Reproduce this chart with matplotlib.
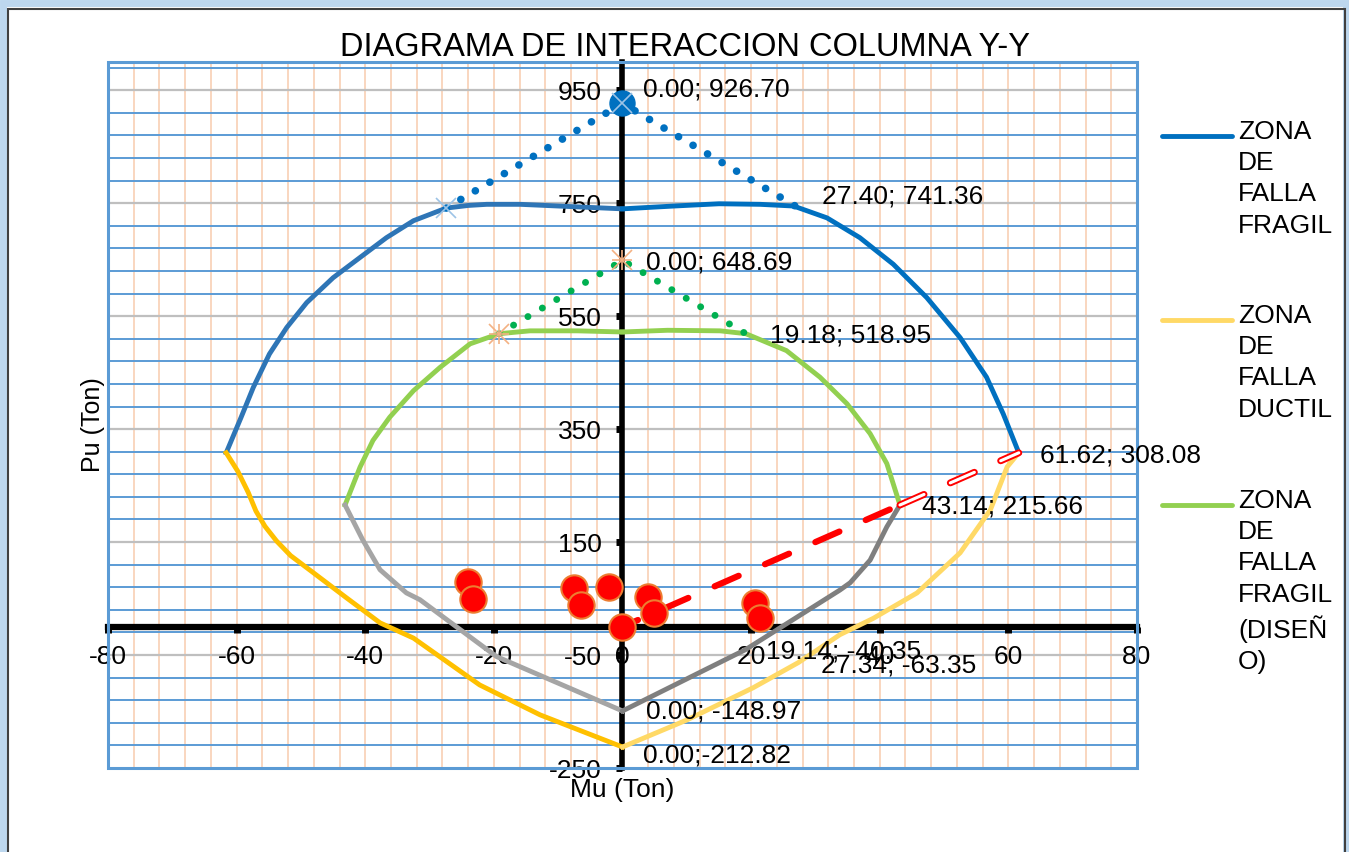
import numpy as np
import matplotlib.pyplot as plt
import matplotlib.patheffects as pe
from matplotlib.patches import Rectangle
from matplotlib.lines import Line2D

plt.rcParams['font.family'] = ['Liberation Sans', 'DejaVu Sans']

# Zona de falla fragil (diagrama nominal) - mitad izquierda y derecha
fragil_izq_M = [-61.62, -59.3, -57.4, -54.9, -52.2, -49.1, -45.0, -40.8, -36.7, -32.5, -27.40, -24.0, -21.1, -15.9, -8.0, 0.0]
fragil_izq_P = [308.08, 371, 424, 483, 530, 574, 618, 654, 689, 719, 741.36, 746, 748, 748, 744, 740]
fragil_der_M = [0.0, 8.0, 15.0, 21.4, 26.6, 31.8, 36.9, 42.1, 47.3, 52.5, 56.6, 59.2, 61.62]
fragil_der_P = [740, 745, 749, 748, 745, 724, 689, 642, 583, 512, 442, 377, 308.08]
# Tramo de compresion pura (punteado)
comp_M = [-27.40, 0.00, 27.40]
comp_P = [741.36, 926.70, 741.36]

# Zona de falla ductil
ductil_izq_M = [-61.62, -59.8, -58.2, -57.0, -55.6, -53.8, -51.6, -48.1, -43.0, -37.7, -32.5, -22.2, -12.8, 0.0]
ductil_izq_P = [308.08, 275, 238, 205, 178, 152, 126, 96, 52, 7, -20, -103, -156, -212.82]
ductil_der_M = [0.0, 10.0, 20.3, 27.34, 33.8, 39.0, 45.8, 52.5, 57.2, 59.8, 61.62]
ductil_der_P = [-212.82, -165, -108, -63.35, -14, 15, 60, 131, 207, 283, 308.08]

# Zona de falla fragil (diseño)
diseno_izq_M = [-43.14, -40.8, -38.8, -36.2, -32.5, -28.4, -23.7, -19.18, -14.4, -7.0, 0.0]
diseno_izq_P = [215.66, 283, 330, 371, 418, 459, 501, 518.95, 524, 524, 522]
diseno_der_M = [0.0, 7.0, 15.2, 19.18, 25.5, 30.7, 34.9, 38.5, 41.1, 43.14]
diseno_der_P = [522, 525, 524, 518.95, 489, 442, 395, 342, 289, 215.66]
comp_dis_M = [-19.18, 0.00, 19.18]
comp_dis_P = [518.95, 648.69, 518.95]

# Zona de falla ductil (diseño)
ductil_dis_izq_M = [-43.14, -40.4, -37.7, -33.6, -31.5, -19.6, 0.0]
ductil_dis_izq_P = [215.66, 154, 101, 60, 48, -52.6, -148.97]
ductil_dis_der_M = [0.0, 19.14, 33.8, 35.4, 38.5, 41.1, 43.14]
ductil_dis_der_P = [-148.97, -40.35, 65, 78, 118, 177, 215.66]

# Linea de excentricidad
exc_M = [0.0, 43.14, 61.62]
exc_P = [0.0, 215.66, 308.08]

# Cargas actuantes
carga_M = [-24.0, -23.25, -7.47, -6.5, -2.1, 4.0, 4.9, 0.0, 20.6, 21.4]
carga_P = [79.5, 49.0, 68.4, 38.3, 70.8, 53.2, 24.9, 0.0, 41.9, 15.4]

# etiquetas de datos: (M, P, texto, desplazamiento x [Ton], desplazamiento y [px])
etiquetas = [
    (0.00, 926.70, '0.00; 926.70', 3.2, 14),
    (27.40, 741.36, '27.40; 741.36', 3.6, 12),
    (0.00, 648.69, '0.00; 648.69', 3.6, -2.5),
    (19.18, 518.95, '19.18; 518.95', 3.8, -2),
    (61.62, 308.08, '61.62; 308.08', 3.3, -3),
    (43.14, 215.66, '43.14; 215.66', 3.4, -2),
    (19.14, -40.35, '19.14; -40.35', 3.2, -2),
    (27.34, -63.35, '27.34; -63.35', 3.6, -3),
    (0.00, -148.97, '0.00; -148.97', 3.6, -1),
    (0.00, -212.82, '0.00;-212.82', 3.2, -8),
]

fig = plt.figure(figsize=(13.49, 8.52), dpi=100)
ax = fig.add_axes([108 / 1349, 84 / 852, 1029 / 1349, 706 / 852])
ax.set_xlim(-80, 80)
ax.set_ylim(-250, 1000)

# rejilla
ax.set_xticks(np.arange(-80, 81, 20))
ax.set_yticks(np.arange(-250, 1000, 200))
ax.grid(False)
for x in np.arange(-76, 80, 4):
    ax.axvline(x, color='#F8CBAD', lw=1.1, zorder=0.5)
for y in np.arange(-210, 1000, 40):
    ax.axhline(y, color='#5B9BD5', lw=1.4, zorder=0.6)
for y in np.arange(-50, 1000, 200):
    ax.axhline(y, color='#BFBFBF', lw=1.6, zorder=0.7)

# ejes en el origen
for s in ['top', 'right']:
    ax.spines[s].set_visible(False)
ax.spines['left'].set_position(('data', 0))
ax.spines['bottom'].set_position(('data', 0))
ax.spines['left'].set_linewidth(4)
ax.spines['bottom'].set_linewidth(4.5)
ax.spines['left'].set_zorder(3)
ax.spines['bottom'].set_zorder(3)
ax.tick_params(which='major', direction='out', length=4, width=5, colors='black', labelsize=19)
ax.tick_params(axis='x', pad=9)
ax.tick_params(axis='y', pad=11)
ax.set_xticklabels([str(v) for v in range(-80, 81, 20)])
ax.set_yticklabels([str(v) for v in range(-250, 1000, 200)])
ax.add_patch(Rectangle((0, 0), 1, 1, transform=ax.transAxes, fill=False,
                       ec='#5B9BD5', lw=2.2, zorder=4, clip_on=False))

# curvas
ax.plot(fragil_izq_M, fragil_izq_P, color='#2E75B6', lw=3.5, zorder=5)
ax.plot(fragil_der_M, fragil_der_P, color='#0070C0', lw=3.5, zorder=5)
ax.plot(comp_M, comp_P, color='#0070C0', lw=5.5, ls=(0, (0.01, 2.2)), dash_capstyle='round', zorder=5)
ax.plot([0], [926.70], 'o', ms=18, color='#0070C0', zorder=6)
ax.plot([0, -27.40], [926.70, 741.36], 'x', ms=15, mew=1.2, color='#9DC3E6', ls='none', zorder=7)

ax.plot(ductil_izq_M, ductil_izq_P, color='#FFC000', lw=3.5, zorder=5)
ax.plot(ductil_der_M, ductil_der_P, color='#FFD966', lw=3.5, zorder=5)

ax.plot(diseno_izq_M, diseno_izq_P, color='#92D050', lw=3.5, zorder=5)
ax.plot(diseno_der_M, diseno_der_P, color='#92D050', lw=3.5, zorder=5)
ax.plot(comp_dis_M, comp_dis_P, color='#00B050', lw=5, ls=(0, (0.01, 2.4)), dash_capstyle='round', zorder=5)
ax.plot([0, -19.18], [648.69, 518.95], 'x', ms=15, mew=1.2, color='#F4B183', ls='none', zorder=7)
ax.plot([0, -19.18], [648.69, 518.95], '+', ms=15, mew=1.2, color='#F4B183', ls='none', zorder=7)

ax.plot(ductil_dis_izq_M, ductil_dis_izq_P, color='#A5A5A5', lw=3.5, zorder=5)
ax.plot(ductil_dis_der_M, ductil_dis_der_P, color='#7F7F7F', lw=3.5, zorder=5)

ax.plot(exc_M[:2], exc_P[:2], color='red', lw=4.5, ls=(1.5, (4.2, 4.6)), dash_capstyle='round', zorder=6)
ax.plot(exc_M[1:], exc_P[1:], color='white', lw=2.2, ls=(0, (8.6, 9.4)), dash_capstyle='round', zorder=6,
        path_effects=[pe.Stroke(linewidth=5, foreground='red'), pe.Normal()])

ax.plot(carga_M, carga_P, 'o', ms=19, mfc='#FF0000', mec='#ED7D31', mew=1.5, ls='none', zorder=8)

for m, p, txt, dx, dy in etiquetas:
    ax.annotate(txt, (m, p), xytext=(dx * 6.43 * 0.72, dy * 0.72), textcoords='offset points',
                fontsize=19, va='center', ha='left', zorder=9)

# titulos
fig.text(685 / 1349, 1 - 48 / 852, 'DIAGRAMA DE INTERACCION COLUMNA Y-Y', fontsize=23.5,
         ha='center', va='center')
fig.text(93 / 1349, 1 - 425 / 852, 'Pu (Ton)', fontsize=18, rotation=90, ha='center', va='center')
fig.text(622 / 1349, 1 - 790 / 852, 'Mu (Ton)', fontsize=19, ha='center', va='center')

# leyenda
leyenda = [('#0070C0', 'ZONA\nDE\nFALLA\nFRAGIL', 136),
           ('#FFD966', 'ZONA\nDE\nFALLA\nDUCTIL', 320),
           ('#92D050', 'ZONA\nDE\nFALLA\nFRAGIL\n(DISEÑ\nO)', 505)]
for color, txt, ypx in leyenda:
    fig.add_artist(Line2D([1162 / 1349, 1232 / 1349], [1 - ypx / 852] * 2, color=color, lw=3.5,
                          solid_capstyle='round'))
    fig.text(1238 / 1349, 1 - (ypx - 16) / 852, txt, fontsize=19, ha='left', va='top', linespacing=1.38)

# marco
fig.add_artist(Rectangle((3 / 1349, -0.02), 1343 / 1349, 1 - 3 / 852 + 0.02, transform=fig.transFigure,
                         fill=False, ec='#BDD7EE', lw=5))
fig.add_artist(Rectangle((7.5 / 1349, -0.02), 1337 / 1349, 1 - 9.5 / 852 + 0.02, transform=fig.transFigure,
                         fill=False, ec='#404040', lw=1.5))

fig.savefig('out.png', dpi=100)
